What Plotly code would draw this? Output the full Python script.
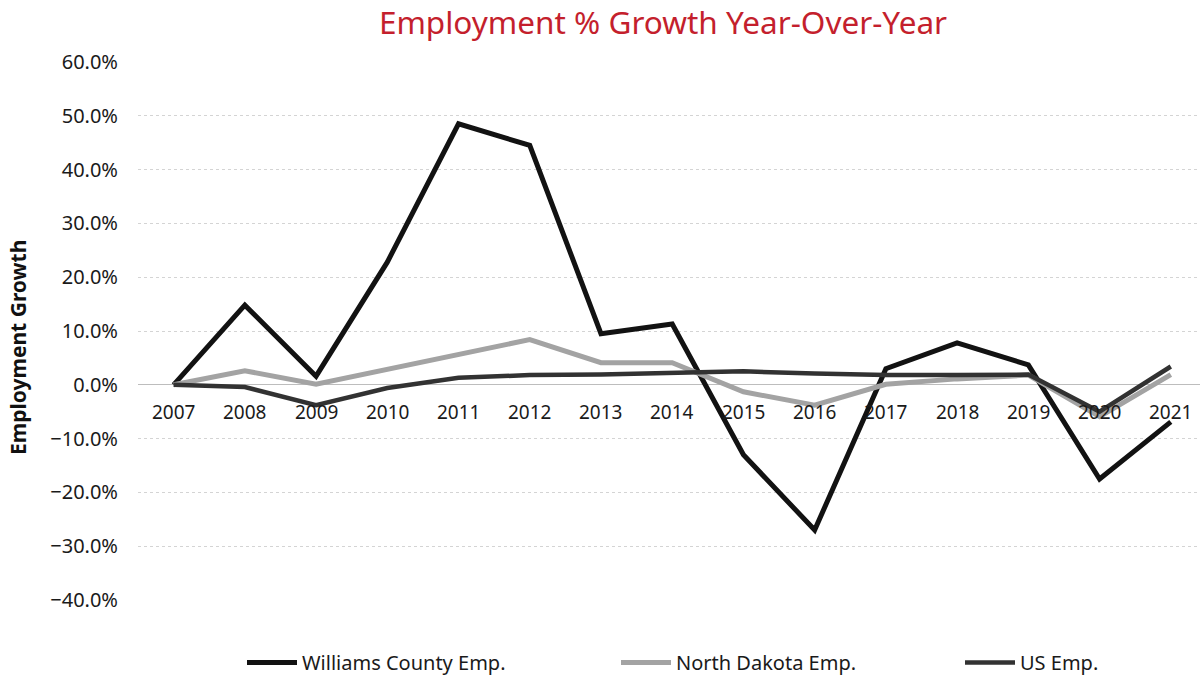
import plotly.graph_objects as go

# Year-over-year employment growth (fractions)
years = list(range(2007, 2022))
williams = [0.0, 0.148, 0.016, 0.228, 0.485, 0.445, 0.095, 0.113, -0.130, -0.270,
            0.030, 0.078, 0.037, -0.175, -0.069]
north_dakota = [0.0, 0.026, 0.001, 0.028, 0.057, 0.084, 0.041, 0.041, -0.013, -0.038,
                0.001, 0.011, 0.018, -0.059, 0.019]
us = [0.0, -0.004, -0.038, -0.006, 0.013, 0.018, 0.019, 0.021, 0.025, 0.021,
      0.018, 0.018, 0.019, -0.050, 0.034]
y_ticks = [-0.4, -0.3, -0.2, -0.1, 0.0, 0.1, 0.2, 0.3, 0.4, 0.5, 0.6]

FONT = "Noto Sans"
TEXT = "#1a1a1a"
L, T, B = 138, 62, 82
PLOT_W, PLOT_H = 1200 - L, 682 - T - B

fig = go.Figure()
fig.add_trace(go.Scatter(x=years, y=williams, mode="lines", name="Williams County Emp.",
                         line=dict(color="#121212", width=5), legend="legend"))
fig.add_trace(go.Scatter(x=years, y=north_dakota, mode="lines", name="North Dakota Emp.",
                         line=dict(color="#a3a3a3", width=5), legend="legend2"))
fig.add_trace(go.Scatter(x=years, y=us, mode="lines", name="US Emp.",
                         line=dict(color="#323232", width=4.5), legend="legend3"))

# Year labels sit just below the zero line
for yr in years:
    fig.add_annotation(x=yr, y=0, xref="x", yref="y", text=str(yr), showarrow=False,
                       yshift=-27, font=dict(family=FONT, size=19, color=TEXT))

# Vertical axis title
fig.add_annotation(x=(18 - L) / PLOT_W, y=(682 - B - 348) / PLOT_H, xref="paper", yref="paper",
                   text="<b>Employment Growth</b>", textangle=-90, showarrow=False,
                   xanchor="center", yanchor="middle",
                   font=dict(family=FONT, size=21, color="#111111"))

# Legends are placed in container coordinates so they do not squeeze the plot area
legend_common = dict(orientation="h", yref="container", yanchor="bottom", y=-0.01,
                     xanchor="left", font=dict(family=FONT, size=20, color=TEXT),
                     bgcolor="rgba(0,0,0,0)", itemwidth=50)

fig.update_layout(
    width=1200, height=682,
    margin=dict(l=L, r=0, t=T, b=B),
    paper_bgcolor="white", plot_bgcolor="white",
    title=dict(text="Employment % Growth Year-Over-Year", x=0.5525, xanchor="center",
               y=0.966, yanchor="middle",
               font=dict(family=FONT, size=31.5, color="#c41f2d")),
    xaxis=dict(range=[2006.5, 2021.41], showticklabels=False, showgrid=False,
               zeroline=False, showline=False, ticks=""),
    yaxis=dict(range=[-0.4, 0.6], tickvals=y_ticks, tickformat=".1%",
               tickfont=dict(family=FONT, size=20, color=TEXT),
               ticklabelstandoff=19,
               showgrid=True, gridcolor="#d4d4d4", griddash="dot", gridwidth=1,
               zeroline=True, zerolinecolor="#bdbdbd", zerolinewidth=1.2),
    showlegend=True,
    legend=dict(legend_common, x=(242 - L) / PLOT_W),
    legend2=dict(legend_common, x=(616 - L) / PLOT_W),
    legend3=dict(legend_common, x=(960 - L) / PLOT_W),
)

fig.write_html("out.html")
